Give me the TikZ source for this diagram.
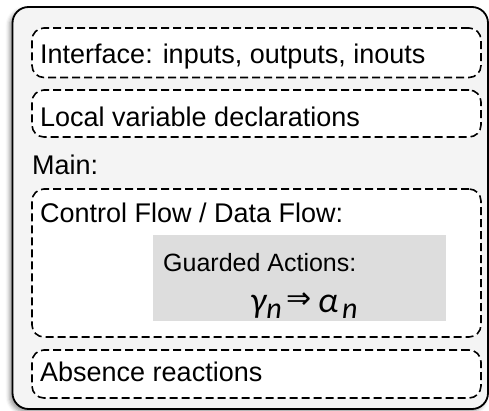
\documentclass[tikz,border=0pt]{standalone}
\usepackage{fontspec}
\setmainfont{Liberation Sans}
\newfontfamily\greekfont{Carlito}
\newfontfamily\arrowfont{DejaVu Sans}
\usetikzlibrary{shadows.blur}
\definecolor{panel}{HTML}{F4F4F4}
\definecolor{guardfill}{HTML}{DDDDDD}
\begin{document}
\begin{tikzpicture}[x=1pt,y=-1pt,
  outerbox/.style={draw=black, line width=1.8pt, fill=panel, rounded corners=16pt,
    inner sep=0pt, outer sep=0pt,
    blur shadow={shadow xshift=-3pt, shadow yshift=-3pt, shadow blur radius=4pt, shadow opacity=40}},
  part/.style={draw=black, line width=1.6pt, dash pattern=on 8pt off 4pt, fill=white,
    rounded corners=12pt, inner sep=0pt, outer sep=0pt, minimum width=449pt},
  guardbox/.style={fill=guardfill, inner sep=0pt, outer sep=0pt},
  label/.style={anchor=base west, inner sep=0pt, font=\fontsize{27}{32}\selectfont},
  smalllabel/.style={anchor=base west, inner sep=0pt, font=\fontsize{25}{30}\selectfont}
]
\useasboundingbox (0,0) rectangle (489,411);

% module frame
\node[outerbox, minimum width=475.5pt, minimum height=402pt] (module) at (250.25,208) {};

% sections
\node[part, minimum height=49.5pt] (iface) at (256.5,52.75) {};
\node[part, minimum height=47pt] (locals) at (256.5,113.5) {};
\node[part, minimum height=148pt] (flow) at (256.5,263) {};
\node[part, minimum height=48pt] (absence) at (256.5,374) {};
\node[guardbox, minimum width=293pt, minimum height=86pt] (guarded) at (299.5,278) {};

% texts
\node[label] (ifacetext) at (40,64) {Interface: inputs, outputs, inouts};
\node[label] (localstext) at (40,127) {Local variable declarations};
\node[label] (maintext) at (32,175) {Main:};
\node[label] (flowtext) at (40,223) {Control Flow / Data Flow:};
\node[smalllabel] (guardtext) at (163,272) {Guarded Actions:};
\node[anchor=base west, inner sep=0pt] (rule) at (250,312)
  {\greekfont\itshape\fontsize{36}{40}\selectfont γ\raisebox{-6pt}{\fontsize{30}{30}\selectfont n}%
   \hspace{5pt}{\arrowfont\upshape\fontsize{30}{30}\selectfont\raisebox{4pt}{⇒}}\hspace{6pt}%
   α\hspace{4pt}\raisebox{-6pt}{\fontsize{30}{30}\selectfont n}};
\node[label] (absencetext) at (40,381) {Absence reactions};
\end{tikzpicture}
\end{document}
